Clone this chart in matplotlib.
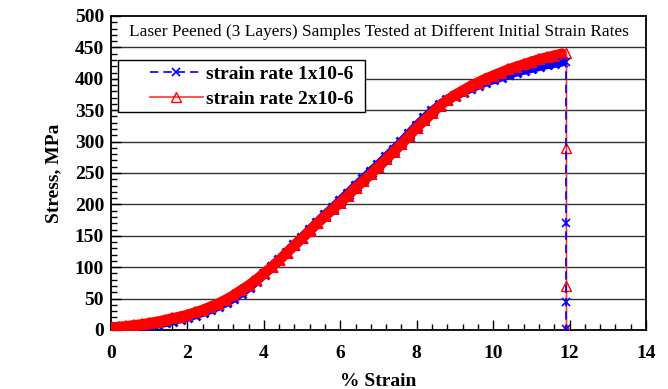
import numpy as np
import matplotlib.pyplot as plt
from matplotlib.patches import Rectangle
from matplotlib.ticker import MultipleLocator

plt.rcParams['font.family'] = ['Liberation Serif', 'DejaVu Serif']

# strain (%) sampled along the curve, plus the final drop at fracture
strain_main = [0.0, 0.2, 0.4, 0.6, 0.8, 1.0, 1.2, 1.4, 1.6, 1.8,
               2.0, 2.2, 2.4, 2.6, 2.8, 3.0, 3.2, 3.4, 3.6, 3.8,
               4.0, 4.2, 4.4, 4.6, 4.8, 5.0, 5.2, 5.4, 5.6, 5.8,
               6.0, 6.2, 6.4, 6.6, 6.8, 7.0, 7.2, 7.4, 7.6, 7.8,
               8.0, 8.2, 8.4, 8.6, 8.8, 9.0, 9.2, 9.4, 9.6, 9.8,
               10.0, 10.2, 10.4, 10.6, 10.8, 11.0, 11.2, 11.4, 11.6, 11.8]
strain_drop = [11.92, 11.92, 11.92, 11.92]

# stress (MPa), strain rate 1x10-6
stress_1 = [1, 2, 3, 4.5, 6, 8, 10, 12, 15, 18,
            21, 24.5, 28.5, 33, 38, 44, 51, 59, 68, 78,
            89, 100, 111, 123, 135, 147, 159, 171, 183, 194,
            206, 217, 229, 240, 252, 263, 275, 287, 299, 312,
            325, 337, 348, 358, 366, 373, 379, 385, 390, 395,
            399, 403, 407, 411, 414, 417, 420, 423, 425, 427]
drop_1 = [427, 170, 44, 2]

# stress (MPa), strain rate 2x10-6
stress_2 = [4, 5, 6, 7.5, 9, 11, 13, 15.5, 18.5, 21,
            24, 28, 32, 37, 42, 48, 55, 63, 71, 80,
            90, 100, 111, 123, 135, 146, 158, 170, 181, 192,
            203, 214, 226, 237, 248, 260, 272, 284, 296, 309,
            322, 334, 345, 357, 366, 374, 381, 388, 394, 400,
            405, 410, 415, 419, 423, 427, 431, 434, 437, 440]
drop_2 = [441, 289, 70, 2]

labels = ["strain rate 1x10-6", "strain rate 2x10-6"]
title = "Laser Peened (3 Layers) Samples Tested at Different Initial Strain Rates"

fig = plt.figure(figsize=(6.68, 3.89), dpi=100, facecolor='white')
ax = fig.add_axes([0.1662, 0.1517, 0.8008, 0.8072])

# grid lines (the one at 450 closes the title box)
for yv in range(50, 500, 50):
    ax.axhline(yv, color='#333333', lw=1.0, zorder=1)

# dense data: drawn as a thick band of overlapping markers
ax.plot(strain_main, stress_1, ls='-', lw=7, color='#0000ff',
        marker='x', ms=7, mew=2, solid_capstyle='butt', zorder=3)
ax.plot(strain_main, stress_2, ls='-', lw=7.5, color='#ff0000',
        marker='^', ms=7, mew=1.5, solid_capstyle='round', zorder=4)

x1 = strain_main[-1:] + strain_drop
x2 = strain_main[-1:] + strain_drop
y1 = stress_1[-1:] + drop_1
y2 = stress_2[-1:] + drop_2

l2, = ax.plot(x2, y2, ls='-', lw=1.2, color='#ff3333',
              marker='^', mfc='none', mec='#ff0000', ms=7, mew=1.0, zorder=5)
l1, = ax.plot(x1, y1, ls=(0, (5, 3)), lw=1.2, color='#0000ff',
              marker='x', ms=6, mew=1.2, zorder=6)

ax.set_xlim(0, 14)
ax.set_ylim(0, 500)
ax.xaxis.set_major_locator(MultipleLocator(2))
ax.xaxis.set_minor_locator(MultipleLocator(0.4))
ax.yaxis.set_major_locator(MultipleLocator(50))
ax.yaxis.set_minor_locator(MultipleLocator(10))
ax.tick_params(which='both', direction='in', top=False, right=False,
               width=1.0, colors='black')
ax.tick_params(which='major', length=7, labelsize=14)
ax.tick_params(which='minor', length=4)
ax.tick_params(axis='x', which='major', pad=11)
ax.tick_params(axis='y', which='major', pad=5)
for lbl in ax.get_xticklabels() + ax.get_yticklabels():
    lbl.set_fontweight('bold')
for sp in ax.spines.values():
    sp.set_linewidth(1.3)
    sp.set_color('black')

ax.set_xlabel("% Strain", fontsize=14, fontweight='bold', labelpad=8)
ax.set_ylabel("Stress, MPa", fontsize=14, fontweight='bold', labelpad=9)

ax.text(7, 475, title, ha='center', va='center', fontsize=12.4, zorder=6)

# legend frame drawn separately (wider left margin than matplotlib gives)
ax.add_patch(Rectangle((0.0131, 0.694), 0.4617, 0.166, transform=ax.transAxes,
                       fc='white', ec='black', lw=1.0, zorder=9))
leg = ax.legend([l1, l2], labels, loc='upper left',
                bbox_to_anchor=(0.0729, 0.843), frameon=False,
                borderaxespad=0, borderpad=0, handlelength=2.7,
                labelspacing=0.36, handletextpad=0.2,
                prop={'weight': 'bold', 'size': 14})
leg.set_zorder(10)

fig.savefig("out.png", dpi=100, facecolor='white')
